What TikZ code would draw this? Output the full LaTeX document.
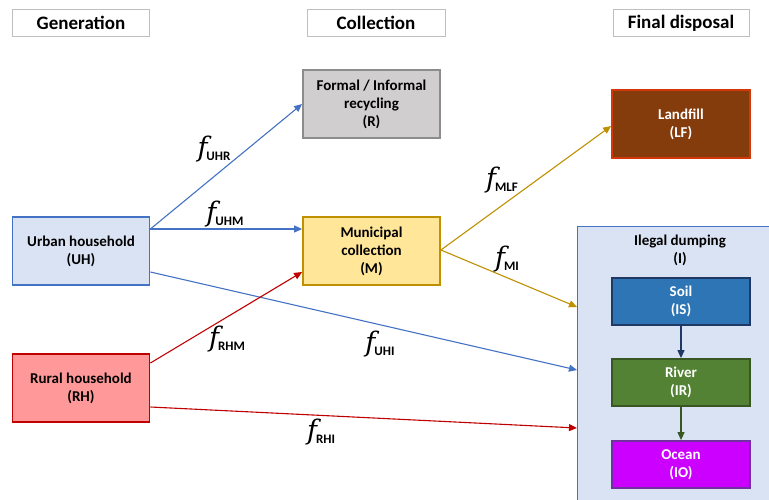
\documentclass[tikz,border=0pt]{standalone}
\usepackage{fontspec}
\setmainfont{Carlito}
\newfontfamily\fserif{DejaVu Serif}
\usetikzlibrary{arrows.meta}
\definecolor{hdrgray}{HTML}{BFBFBF}
\definecolor{rfill}{HTML}{D0CECE}
\definecolor{rdraw}{HTML}{8C8C8C}
\definecolor{ublue}{HTML}{DAE3F3}
\definecolor{bline}{HTML}{4472C4}
\definecolor{mfill}{HTML}{FFE699}
\definecolor{gold}{HTML}{BF9000}
\definecolor{lffill}{HTML}{843C0C}
\definecolor{lfdraw}{HTML}{D4380A}
\definecolor{rhfill}{HTML}{FF9999}
\definecolor{red}{HTML}{C00000}
\definecolor{soilfill}{HTML}{2E75B6}
\definecolor{navy}{HTML}{1F3864}
\definecolor{riverfill}{HTML}{548235}
\definecolor{darkgreen}{HTML}{385723}
\definecolor{oceanfill}{HTML}{CC00FF}
\definecolor{purp}{HTML}{7030A0}
\newcommand{\flab}[1]{{\fontsize{27}{27}\selectfont\fserif\itshape f}\kern-1pt\raisebox{-4pt}{\fontsize{13}{13}\selectfont\bfseries #1}}
\tikzset{
  hdr/.style={draw=hdrgray, line width=0.8pt, fill=white, minimum height=27.5, inner sep=0pt,
    font=\fontsize{19}{22}\selectfont\bfseries},
  box/.style={line width=1.8pt, minimum width=137, minimum height=68, inner sep=0pt, align=center,
    font=\fontsize{15}{18}\selectfont\bfseries},
  sbox/.style={box, minimum height=47},
  conn/.style={line width=1.1pt, -{Triangle[length=8pt,width=7pt]}},
  flabel/.style={inner sep=0pt}
}
\begin{document}
\begin{tikzpicture}[x=1pt,y=-1pt]
\useasboundingbox (0,0) rectangle (769,499);
\fill[white] (0,0) rectangle (769,499);
% headers
\node[hdr, minimum width=137] (hg) at (81,23) {Generation};
\node[hdr, minimum width=138] (hc) at (376,23) {Collection};
\node[hdr, minimum width=136] (hf) at (681,23) {Final disposal};
% container
\begin{scope}
\clip (0,0) rectangle (769,499);
\draw[bline, line width=1pt, fill=ublue] (577.5,226.5) rectangle (790,520);
\end{scope}
\node[align=center, font=\fontsize{15}{18}\selectfont\bfseries, inner sep=0pt] (ilab) at (680,250) {Ilegal dumping\\(I)};
% boxes
\node[box, draw=bline, fill=ublue] (UH) at (81,251) {Urban household\\(UH)};
\node[box, draw=red, fill=rhfill] (RH) at (81,388) {Rural household\\(RH)};
\node[box, draw=rdraw, fill=rfill] (R) at (371.5,104) {Formal / Informal\\recycling\\(R)};
\node[box, draw=gold, fill=mfill] (M) at (371.5,251) {Municipal\\collection\\(M)};
\node[box, draw=lfdraw, fill=lffill, text=white, minimum width=138] (LF) at (681,124) {Landfill\\(LF)};
\node[sbox, draw=navy, fill=soilfill, text=white, minimum width=138] (IS) at (681,301.5) {Soil\\(IS)};
\node[sbox, draw=darkgreen, fill=riverfill, text=white, minimum width=138] (IR) at (681,382.5) {River\\(IR)};
\node[sbox, draw=purp, fill=oceanfill, text=white, minimum width=138] (IO) at (681,464.5) {Ocean\\(IO)};
% attachment points
\coordinate (uhA) at ([yshift=22pt]UH.east);
\coordinate (uhB) at ([yshift=-21pt]UH.east);
\coordinate (rhA) at ([yshift=25pt]RH.east);
\coordinate (rhB) at ([yshift=-19pt]RH.east);
\coordinate (mA) at ([yshift=22pt]M.west);
\coordinate (mB) at ([yshift=-21pt]M.west);
\coordinate (mE) at ([yshift=1pt]M.east);
\coordinate (iA) at (577,307);
\coordinate (iB) at (577,370);
\coordinate (iC) at (577,428);
% connectors
\draw[conn, bline] (uhA) -- (R.west);
\draw[conn, bline] (uhA) -- (mA);
\draw[conn, bline] (uhB) -- (iB);
\draw[conn, red] (rhA) -- (mB);
\draw[conn, red] (rhB) -- (iC);
\draw[conn, gold] (mE) -- ([yshift=-2pt]LF.west);
\draw[conn, gold] (mE) -- (iA);
\draw[conn, navy] (IS) -- (IR);
\draw[conn, darkgreen] (IR) -- (IO);
% labels
\node[flabel] (lUHR) at (214,149) {\flab{UHR}};
\node[flabel] (lUHM) at (225,214) {\flab{UHM}};
\node[flabel] (lMLF) at (502,180) {\flab{MLF}};
\node[flabel] (lMI) at (507,259) {\flab{MI}};
\node[flabel] (lRHM) at (227,339) {\flab{RHM}};
\node[flabel] (lUHI) at (380,344) {\flab{UHI}};
\node[flabel] (lRHI) at (321,432) {\flab{RHI}};
\end{tikzpicture}
\end{document}
